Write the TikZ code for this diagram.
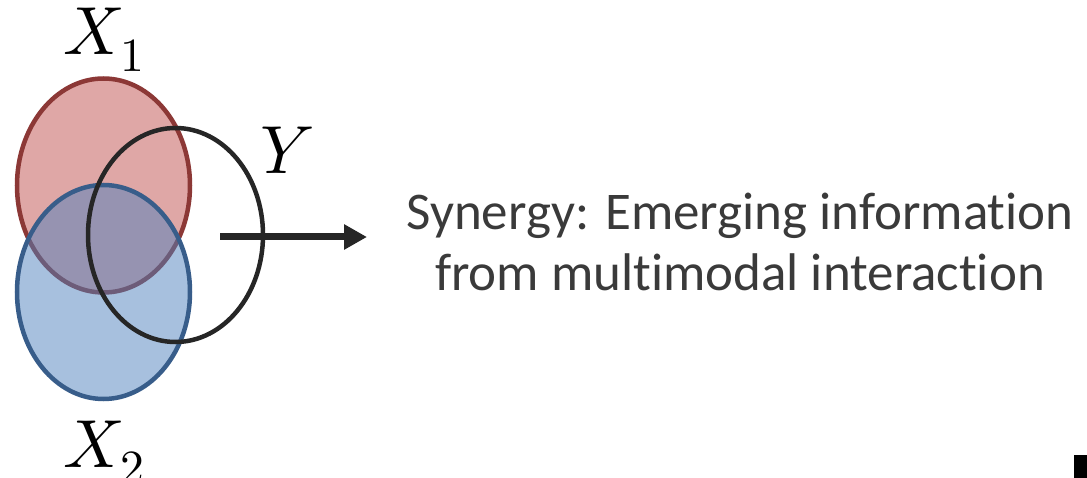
\documentclass[tikz,border=0pt]{standalone}
\usepackage{fontspec}
\usepackage{unicode-math}
\setmainfont[Ligatures={NoCommon,NoRare}]{Carlito}
\usetikzlibrary{shapes.geometric,arrows.meta}
\definecolor{redfill}{HTML}{C0504D}
\definecolor{redline}{HTML}{8C3836}
\definecolor{bluefill}{HTML}{4F81BD}
\definecolor{blueline}{HTML}{385D8A}
\definecolor{ydark}{HTML}{262626}
\definecolor{txt}{HTML}{3A3A3A}
\begin{document}
\begin{tikzpicture}[x=1pt,y=-1pt,
  setell/.style={ellipse, minimum width=173, minimum height=214, inner sep=0, line width=4.5},
  lbl/.style={inner sep=0, font=\fontsize{68}{68}\selectfont},
  caption/.style={inner sep=0, align=center, text=txt, font=\fontsize{53}{61}\selectfont}]
\useasboundingbox (0,0) rectangle (1087,478);
\node[setell, draw=redline, fill=redfill, fill opacity=0.5, draw opacity=1] (x1) at (103.5,185.5) {};
\node[setell, draw=blueline, fill=bluefill, fill opacity=0.5, draw opacity=1] (x2) at (103.5,292) {};
\node[setell, draw=ydark, minimum width=175] (y) at (175.5,235) {};
\node[lbl, anchor=base] (lx1) at (104,55) {$X_1$};
\node[lbl, anchor=base] (lx2) at (104,467) {$X_2$};
\node[lbl, anchor=base] (ly) at (287,174) {$Y$};
\node[caption] (syn) at (740,242) {Synergy: Emerging information\\from multimodal interaction};
\coordinate (as) at (220,237);
\coordinate (ae) at (367,237);
\draw[ydark, line width=7, -{Triangle[length=23,width=24]}] (as) -- (ae);
\fill[black] (1074,455) rectangle (1087,478);
\end{tikzpicture}
\end{document}
